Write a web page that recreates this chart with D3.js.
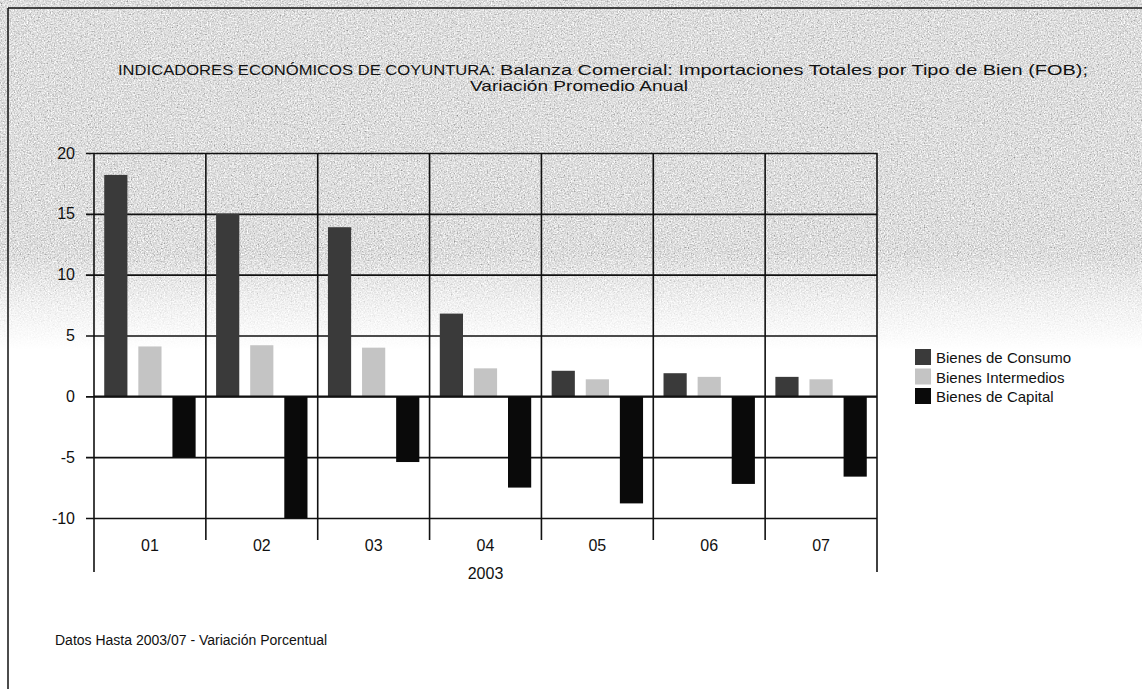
<!DOCTYPE html>
<html><head><meta charset="utf-8">
<script src="https://cdn.jsdelivr.net/npm/d3@7"></script>
<style>html,body{margin:0;padding:0;background:#fff;}svg{display:block;}</style>
</head><body>
<svg id="c" width="1142" height="689"></svg>
<script>
const categories = ["01","02","03","04","05","06","07"];
const seriesNames = ["Bienes de Consumo","Bienes Intermedios","Bienes de Capital"];
const consumo = [18.2, 15.0, 13.9, 6.8, 2.1, 1.9, 1.6];
const intermedios = [4.1, 4.2, 4.0, 2.3, 1.4, 1.6, 1.4];
const capital = [-5.0, -10.0, -5.4, -7.5, -8.8, -7.2, -6.6];
const yTicks = [-10, -5, 0, 5, 10, 15, 20];
const yearLabel = "2003";
const titleParts = ["INDICADORES ECONÓMICOS DE COYUNTURA:", "Balanza Comercial: Importaciones Totales por Tipo de Bien (FOB);", "Variación Promedio Anual"];
const footer = "Datos Hasta 2003/07 - Variación Porcentual";

const seriesValues = [consumo, intermedios, capital];
const colors = ["#3a3a3a", "#c4c4c4", "#0a0a0a"];
const font = "'Liberation Sans', Arial, sans-serif";

const svg = d3.select("#c");
const W = 1142, H = 689;
const L = 94, R = 877, T = 153, B = 518;

// defs: scan-like gray texture
const defs = svg.append("defs");
const lg = defs.append("linearGradient").attr("id","fade")
  .attr("gradientUnits","userSpaceOnUse").attr("x1",0).attr("x2",0).attr("y1",8).attr("y2",350);
lg.append("stop").attr("offset",0).attr("stop-color","#fff").attr("stop-opacity",1);
lg.append("stop").attr("offset",0.72).attr("stop-color","#fff").attr("stop-opacity",1);
lg.append("stop").attr("offset",0.86).attr("stop-color","#fff").attr("stop-opacity",0.45);
lg.append("stop").attr("offset",1).attr("stop-color","#fff").attr("stop-opacity",0);
const mask = defs.append("mask").attr("id","m").attr("maskUnits","userSpaceOnUse")
  .attr("x",0).attr("y",0).attr("width",W).attr("height",H);
mask.append("rect").attr("x",0).attr("y",0).attr("width",W).attr("height",H).attr("fill","url(#fade)");

const f = defs.append("filter").attr("id","noise").attr("filterUnits","userSpaceOnUse")
  .attr("x",0).attr("y",0).attr("width",W).attr("height",H);
f.append("feTurbulence").attr("type","fractalNoise").attr("baseFrequency","0.7").attr("numOctaves",2).attr("seed",7).attr("result","t");
f.append("feColorMatrix").attr("type","matrix")
  .attr("values","0.33 0.33 0.33 0 0  0.33 0.33 0.33 0 0  0.33 0.33 0.33 0 0  0 0 0 0 1").attr("result","g");
const ct = f.append("feComponentTransfer");
["R","G","B"].forEach(ch => ct.append("feFunc"+ch).attr("type","linear").attr("slope",1.7).attr("intercept",-0.12));

svg.append("rect").attr("width",W).attr("height",H).attr("fill","#fff");
svg.append("rect").attr("x",8).attr("y",8).attr("width",W-8).attr("height",350)
  .attr("filter","url(#noise)").attr("mask","url(#m)");

// frame
svg.append("line").attr("x1",8).attr("x2",W).attr("y1",8).attr("y2",8).attr("stroke","#111").attr("stroke-width",1.5);
svg.append("line").attr("x1",8).attr("x2",8).attr("y1",8).attr("y2",H).attr("stroke","#111").attr("stroke-width",1.5);

// scales
const x0 = d3.scaleBand().domain(categories).range([L, R]).paddingInner(0).paddingOuter(0);
const x1 = d3.scaleBand().domain(d3.range(3)).range([0, x0.bandwidth()]).paddingInner(0.32).paddingOuter(0.3);
const y = d3.scaleLinear().domain([-10, 20]).range([B, T]);

const g = svg.append("g");

// horizontal gridlines with left ticks
const yAxis = d3.axisLeft(y).tickValues(yTicks).tickSize(-(R - L + 8)).tickPadding(11).tickFormat(d => String(d));
const ya = g.append("g").attr("transform",`translate(${L - 8},0)`).call(yAxis);
ya.select(".domain").remove();
ya.selectAll(".tick line").attr("stroke","#111").attr("stroke-width",1.6);
ya.selectAll(".tick text").attr("font-family",font).attr("font-size",16).attr("fill","#111");

// bars
const rows = categories.map((c,i) => ({c, vals: seriesValues.map(s => s[i])}));
const grp = g.selectAll("g.grp").data(rows).join("g").attr("class","grp")
  .attr("transform", d => `translate(${x0(d.c)},0)`);
grp.selectAll("rect").data(d => d.vals.map((v,k)=>({v,k}))).join("rect")
  .attr("x", d => x1(d.k)).attr("width", x1.bandwidth())
  .attr("y", d => y(Math.max(0,d.v))).attr("height", d => Math.abs(y(d.v) - y(0)))
  .attr("fill", d => colors[d.k]);

// redraw zero line over bars
g.append("line").attr("x1",L).attr("x2",R).attr("y1",y(0)).attr("y2",y(0)).attr("stroke","#111").attr("stroke-width",1.6);

// vertical gridlines and category ticks
const bounds = categories.map(c => x0(c)).concat([R]);
g.selectAll("line.v").data(bounds).join("line").attr("class","v")
  .attr("x1", d => d).attr("x2", d => d).attr("y1", T)
  .attr("y2", (d,i) => (i === 0 || i === bounds.length - 1) ? 572 : 540)
  .attr("stroke","#111").attr("stroke-width",1.6);

// category labels
g.selectAll("text.cat").data(categories).join("text").attr("class","cat")
  .attr("x", d => x0(d) + x0.bandwidth()/2).attr("y", 551)
  .attr("text-anchor","middle").attr("font-family",font).attr("font-size",16).attr("fill","#111").text(d => d);
g.append("text").attr("x",(L+R)/2).attr("y",579).attr("text-anchor","middle")
  .attr("font-family",font).attr("font-size",16).attr("fill","#111").text(yearLabel);

// title
const tAttrs = [[118, 75, 377], [500, 75, 588], [470, 91, 218]];
titleParts.forEach((t,i) => {
  svg.append("text").attr("x",tAttrs[i][0]).attr("y",tAttrs[i][1]).attr("font-family",font)
    .attr("font-size",15).attr("fill","#111").attr("textLength",tAttrs[i][2])
    .attr("lengthAdjust","spacingAndGlyphs").text(t);
});

// legend
const leg = svg.append("g").attr("transform","translate(915,350)");
const li = leg.selectAll("g").data(seriesNames).join("g").attr("transform",(d,i)=>`translate(0,${i*19.5})`);
li.append("rect").attr("x",0).attr("y",-1).attr("width",16).attr("height",16).attr("fill",(d,i)=>colors[i]);
li.append("text").attr("x",21).attr("y",13).attr("font-family",font).attr("font-size",15).attr("fill","#111").text(d=>d);

// footer
svg.append("text").attr("x",55).attr("y",645).attr("font-family",font).attr("font-size",14).attr("fill","#111").text(footer);
</script>
</body></html>
